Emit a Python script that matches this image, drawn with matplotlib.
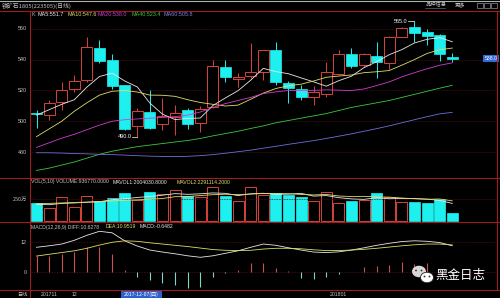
import numpy as np
import matplotlib.pyplot as plt
from matplotlib.patches import Rectangle, Ellipse

# ---- data (34 daily candles) ----
opens = [505.5, 504, 512.4, 521, 526.8, 547.8, 539.8, 523.5, 497, 506, 498, 503,
         507, 499, 509.5, 535, 527.3, 529.6, 532.2, 546.3, 525, 520.7, 516, 518,
         531, 544, 536.5, 542.4, 537.6, 555, 561, 558.3, 556, 542]
closes = [505, 512, 520, 526, 548, 539.5, 523, 494.7, 506.5, 495.5, 503.5, 505.5,
          498, 508, 536, 528.5, 529, 532.2, 546.3, 525.7, 521.4, 515.5, 519.2, 532,
          543.7, 536, 543.5, 538.3, 555, 560.4, 557.2, 555.6, 543.7, 540.5]
highs = [507, 514, 525.7, 530, 555, 552.8, 544, 523.8, 508.5, 520, 515, 510.5,
         508.5, 510, 540, 539.8, 531.5, 550.7, 546.5, 551.7, 526, 523.5, 523, 538.7,
         546.3, 547.4, 544.5, 551.3, 555.5, 561, 565, 560, 557, 544.6]
lows = [495.5, 501, 507.2, 519, 525.7, 537.8, 520.7, 494.5, 490, 495, 494, 491,
        495, 493, 508.5, 525.7, 522.4, 528, 527, 523.5, 511.6, 513.7, 510.5, 516,
        530, 534.4, 535.4, 527.9, 534, 555, 551.7, 549.6, 539.3, 538.7]

ma5 = [504, 507.5, 511, 514, 522.2, 529.1, 531.3, 526.2, 522.3, 511.8, 504.6, 501.1,
       501.8, 502.1, 510.2, 515.2, 519.9, 526.7, 534.4, 532.3, 530.9, 528.2, 525.6,
       522.8, 526.4, 529.3, 534.9, 538.7, 543.3, 546.6, 550.9, 553.3, 554.4, 551.7]
ma10 = [490, 495, 500, 506.5, 512, 517, 519.5, 520, 519, 517, 516.9, 516.2, 514,
        512.2, 511, 509.9, 510.5, 514.3, 518.3, 521.3, 523.1, 524.1, 526.2, 528.6,
        529.4, 530.1, 531.6, 532.2, 533, 536.5, 540.1, 544.1, 546.5, 547.6]
ma20 = [483, 486, 489, 491.5, 494.5, 497.5, 500, 501, 501.5, 502, 502.5, 503, 504,
        506, 509, 511.5, 513.5, 515.5, 518, 519.1, 520, 520.1, 520.1, 520.4, 520.2,
        520, 521, 523.2, 525.6, 528.9, 531.6, 534.1, 536.4, 538]
ma40 = [468, 469.5, 471.5, 473.5, 476, 478.5, 480.5, 482, 483.5, 484.5, 485.5, 486.5,
        487.5, 488.8, 490.5, 492, 493.5, 495.3, 497, 499, 500.5, 502, 503.5, 505,
        507, 509, 510.5, 512, 513.5, 515.5, 517.5, 519.5, 521.5, 523.4]
ma60 = [479.5, 479.5, 479.3, 479, 478.8, 478.5, 478.3, 478, 477.6, 477.3, 477.1, 477,
        477.2, 477.6, 478.3, 479.2, 480.2, 481.2, 482.5, 483.7, 485, 486.2, 487.4,
        488.8, 490.3, 491.8, 493.5, 495.2, 497, 499, 501, 503, 504.8, 505.8]

# volume in 万 (10k)
volume = [201, 151, 269, 160, 284, 231, 265, 322, 240, 333, 307, 352, 284, 269, 383,
          284, 227, 383, 300, 322, 295, 269, 227, 333, 201, 227, 240, 322, 276, 219,
          219, 208, 250, 94]
mavol1 = [190, 185, 200, 205, 213, 219, 242, 252, 268, 278, 293, 311, 303, 309, 319,
          314, 289, 309, 315, 303, 305, 314, 283, 289, 265, 251, 246, 265, 253, 257,
          255, 249, 234, 200]
mavol2 = [195, 200, 205, 210, 215, 220, 228, 235, 240, 246, 256, 276, 278, 289, 299,
          304, 300, 306, 312, 311, 310, 302, 296, 302, 284, 278, 280, 274, 271, 261,
          253, 247, 250, 229]

diff = [10.0, 10.6, 11.3, 12.8, 14.8, 16.4, 15.8, 12.6, 10.5, 8.9, 8.1, 7.4, 6.6, 6.0,
        6.6, 7.6, 8.6, 10.0, 11.3, 10.8, 9.8, 8.9, 8.1, 7.9, 8.2, 8.9, 9.8, 10.8, 11.6,
        12.3, 12.6, 12.4, 11.9, 10.63]
dea = [6.5, 7.2, 7.9, 8.6, 9.6, 10.9, 12.0, 12.6, 12.4, 11.8, 11.3, 10.8, 10.3, 9.7,
       9.1, 8.8, 8.7, 8.8, 9.3, 9.6, 9.6, 9.4, 9.0, 8.7, 8.7, 8.9, 9.2, 9.6, 10.1, 10.6,
       11.0, 11.3, 11.3, 10.95]
macd = [6.5, 6.6, 7.3, 8.1, 10, 10, 7.3, 0.9, -1.7, -3.1, -4.1, -5.1, -6.4, -6, -1.7,
        -0.4, 0.9, 3.6, 3.9, 1.6, 0.5, -2.4, -2.8, -2.0, -0.5, 0.3, 2.3, 2.5, 2.9, 4.3,
        3.5, 3.9, 1.0, -0.65]

price_ticks = [560, 540, 520, 500, 480]

RED = '#d8443c'
CYAN = '#1ef0f0'
BORDER = '#a01c1c'
GRID = '#4a1010'
LBL = '#c4c4c4'
CJK = ['Noto Sans CJK SC', 'DejaVu Sans']
plt.rcParams['font.family'] = ['Liberation Sans', 'DejaVu Sans']

W, H = 500, 298
fig = plt.figure(figsize=(5, 2.98), dpi=100, facecolor='black')

idx = np.arange(len(closes))
X0, X1 = -0.516, 36.55


def add_ax(l, t, r, b, ylim):
    ax = fig.add_axes([l / W, 1 - b / H, (r - l) / W, (b - t) / H])
    ax.set_facecolor('black')
    ax.set_xlim(X0, X1)
    ax.set_ylim(*ylim)
    ax.axis('off')
    return ax


ax = add_ax(30, 10.5, 497, 178, (463.09, 572.03))
axv = add_ax(30, 178, 497, 222, (-11.4, 488.6))
axm = add_ax(30, 222, 497, 290, (-7.08, 20.12))

# grid lines
for p in price_ticks:
    ax.axhline(p, color=GRID, lw=0.6, ls=(0, (1, 1)))
axv.axhline(250, color=GRID, lw=0.6, ls=(0, (1, 1)))
axm.axhline(12, color=GRID, lw=0.6, ls=(0, (1, 1)))
axm.axhline(0, color=GRID, lw=0.6, ls=(0, (1, 1)))

# candles
bw = 0.87
for i in idx:
    o, c, h, l = opens[i], closes[i], highs[i], lows[i]
    top, bot = max(o, c), min(o, c)
    if c >= o:
        ax.vlines(i, top, h, color=RED, lw=0.7)
        ax.vlines(i, l, bot, color=RED, lw=0.7)
        ax.add_patch(Rectangle((i - bw / 2, bot), bw, max(top - bot, 0.3),
                               facecolor='black', edgecolor=RED, lw=0.7, zorder=3))
    else:
        ax.vlines(i, l, h, color=CYAN, lw=0.7)
        ax.add_patch(Rectangle((i - bw / 2, bot), bw, max(top - bot, 0.6),
                               facecolor=CYAN, edgecolor=CYAN, lw=0.5, zorder=3))

ax.plot(idx, ma5, color='#e8e8e8', lw=0.6, zorder=4)
ax.plot(idx, ma10, color='#dede6a', lw=0.6, zorder=4)
ax.plot(idx, ma20, color='#d23cd2', lw=0.6, zorder=4)
ax.plot(idx, ma40, color='#3cc83c', lw=0.6, zorder=4)
ax.plot(idx, ma60, color='#6e6ee0', lw=0.6, zorder=4)

# extreme labels
lo_i = int(np.argmin(lows))
hi_i = int(np.argmax(highs))
ax.text(lo_i - 0.45, lows[lo_i], '%.1f' % lows[lo_i], color='white', fontsize=4,
        ha='right', va='center', zorder=5)
ax.plot([lo_i - 0.42, lo_i - 0.05], [lows[lo_i]] * 2, color='white', lw=0.5, zorder=5)
ax.text(hi_i - 0.55, highs[hi_i], '%.1f' % highs[hi_i], color='white', fontsize=4,
        ha='right', va='center', zorder=5)
ax.plot([hi_i - 0.5, hi_i - 0.05], [highs[hi_i]] * 2, color='white', lw=0.5, zorder=5)

# volume
for i in idx:
    if closes[i] >= opens[i]:
        axv.add_patch(Rectangle((i - bw / 2, 0), bw, volume[i], facecolor='black',
                                edgecolor=RED, lw=0.7))
    else:
        axv.add_patch(Rectangle((i - bw / 2, 0), bw, volume[i], facecolor=CYAN,
                                edgecolor=CYAN, lw=0.5))
axv.plot(idx, mavol1, color='#e8e8e8', lw=0.6)
axv.plot(idx, mavol2, color='#dede6a', lw=0.6)

# macd
for i in idx:
    col = '#c85050' if macd[i] >= 0 else '#7cd6c6'
    axm.vlines(i, 0, macd[i], color=col, lw=0.8)
axm.plot(idx, diff, color='#e8e8e8', lw=0.6)
axm.plot(idx, dea, color='#dede6a', lw=0.6)

# ---- overlay in pixel coordinates ----
ov = fig.add_axes([0, 0, 1, 1])
ov.set_xlim(0, W)
ov.set_ylim(H, 0)
ov.axis('off')
ov.patch.set_alpha(0)


def T(x, y, s, color=LBL, size=3.9, ha='left', **kw):
    ov.text(x, y, s, color=color, fontsize=size, ha=ha, va='center', **kw)


# frame
ov.plot([0, W], [0.6, 0.6], color='#b0b0b0', lw=0.8)
for y in (10.5, 178, 222, 290):
    ov.plot([0, W], [y, y], color=BORDER, lw=0.8)
ov.plot([30, 30], [10.5, 298], color=BORDER, lw=0.8)
ov.plot([497, 497], [10.5, 290], color=BORDER, lw=0.8)

# title bar
T(2, 5.5, '铁矿石1805(223505)(日线)', size=4.2, family=CJK)
T(425, 5, '品种信息', size=3.8, family=CJK)
ov.plot([425, 445], [8, 8], color='#8080c0', lw=0.4)
T(455, 5, '更多', size=3.8, family=CJK)
for bx in (477, 484, 491):
    ov.add_patch(Rectangle((bx, 2.5), 6, 5, facecolor='none', edgecolor='#9090a0', lw=0.5))

# main header
T(31, 15, 'K', color='#b0b0b0')
T(37, 15, 'MA5:551.7', color='#e8e8e8')
T(67, 15, 'MA10:547.6', color='#dede6a')
T(98, 15, 'MA20:538.0', color='#d23cd2')
T(131, 15, 'MA40:523.4', color='#3cc83c')
T(163, 15, 'MA60:505.8', color='#8080e8')

# price axis labels
for p in price_ticks:
    y = 29 + (560 - p) * 1.5375
    T(27, y, str(p), ha='right')

# last price box
ov.add_patch(Rectangle((483, 54.5), 16, 7.5, facecolor='#2c6ad6', edgecolor='none'))
T(491, 58.2, '538.0', color='white', size=3.7, ha='center')

# volume header / labels
T(31, 182, 'VOL(5,10) VOLUME:936770.0000', size=3.7)
T(113, 182, 'MAVOL1:2004030.8000', color='#e8e8e8', size=3.7)
T(177, 182, 'MAVOL2:2291114.2000', color='#dede6a', size=3.7)
T(27, 199.5, '250万', ha='right', size=3.9, family=CJK)

# macd header / labels
T(31, 227, 'MACD(12,26,9) DIFF:10.6278', size=3.7)
T(106, 227, 'DEA:10.9519', color='#dede6a', size=3.7)
T(140, 227, 'MACD:-0.6482', color='#e8e8e8', size=3.7)
T(27, 242.3, '12', ha='right')
T(27, 272.3, '0', ha='right')

# bottom date axis
T(17, 294.5, '日线', size=3.7, family=CJK)
T(41, 294.5, '201711', size=3.7)
T(72, 294.5, '12', size=3.7)
ov.add_patch(Rectangle((121, 290.8), 41, 7.2, facecolor='#2c5fd0', edgecolor='none'))
T(141.5, 294.5, '2017-12-07(四)', color='white', size=3.7, ha='center', family=CJK)
T(330, 294.5, '201801', size=3.7)

# watermark
ov.add_patch(Ellipse((419, 271.5), 14, 11.5, facecolor='#d8d8d8', edgecolor='none', zorder=6))
ov.add_patch(Ellipse((427, 277.5), 13, 10.5, facecolor='white', edgecolor='#202020', lw=0.6, zorder=7))
for ex, ey, z in ((416, 270.5, 6.5), (421.5, 270.5, 6.5), (424.5, 276.5, 7.5), (429.5, 276.5, 7.5)):
    ov.add_patch(Ellipse((ex, ey), 1.8, 1.8, facecolor='#303030', edgecolor='none', zorder=z))
T(435, 275, '黑金日志', color='white', size=9, family=CJK, zorder=8)

fig.savefig('out.png', dpi=100, facecolor='black')
